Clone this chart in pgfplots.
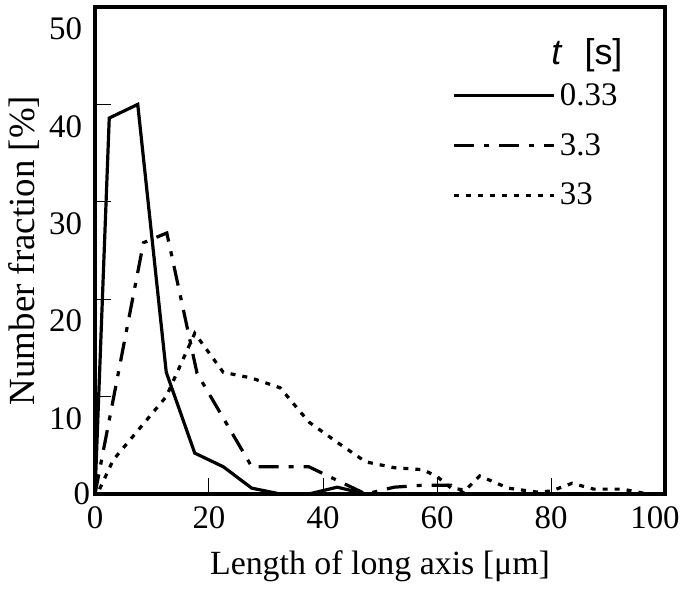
\documentclass[border=0pt]{standalone}
\usepackage{fontspec}
\setmainfont{Liberation Serif}
\setsansfont{Liberation Sans}
\usepackage{pgfplots}
\pgfplotsset{compat=1.18}

\newcommand{\chartfont}{\fontsize{16.5}{20}\selectfont}

\pgfplotsset{
  solidline/.style={black, line width=1.6bp},
  dashdotline/.style={black, line width=1.6bp, dash pattern=on 10bp off 5bp on 2.5bp off 5bp},
  dotline/.style={black, line width=1.6bp, dash pattern=on 2.5bp off 3.5bp},
}

\begin{document}
\begin{tikzpicture}
\useasboundingbox (-47.5bp,-48.5bp) rectangle (295bp,247bp);
\begin{axis}[
    scale only axis,
    width=285bp, height=243.5bp,
    at={(0,0)}, anchor=south west,
    xmin=0, xmax=100, ymin=0, ymax=50,
    xtick={0,20,40,60,80},
    ytick={10,20,30,40,50},
    extra x ticks={100},
    extra x tick style={xticklabel style={xshift=-5bp}},
    extra y ticks={0},
    extra y tick style={yticklabel style={yshift=11bp, xshift=4bp}},
    tick align=inside,
    xtick pos=lower, ytick pos=left,
    major tick length=8bp,
    tick style={black, line width=0.5bp},
    axis line style={line width=2bp},
    tick label style={font=\chartfont},
    yticklabel style={yshift=-11bp, xshift=-3bp},
    xticklabel style={yshift=-3bp},
    /pgf/number format/assume math mode=true,
    xlabel={Length of long axis [μm]},
    ylabel={Number fraction [\%]},
    xlabel style={font=\fontsize{17}{20}\selectfont, yshift=-4bp},
    ylabel style={font=\fontsize{18.5}{22}\selectfont, yshift=-2bp},
    legend style={draw=none, fill=none, at={(rel axis cs:0.627,0.852)}, anchor=north west,
        font=\chartfont, row sep=8.5bp, inner sep=0pt},
    legend cell align=left,
    legend image code/.code={\draw[#1] (0bp,0bp) -- (50bp,0bp);},
    clip=false,
]
\addplot[solidline] coordinates {
    (0,0) (2.5,38.6) (7.5,40) (12.5,12.5) (17.5,4.2) (22.5,2.8) (27.5,0.6)
    (32.5,0) (37.5,0) (42.5,0.7) (47.5,0) (55,0)
};
\addlegendentry{0.33}

\addplot[dashdotline] coordinates {
    (0,0) (8.5,25.8) (12.6,26.8) (17.9,12.4) (27.5,2.8) (37.5,2.8) (42.5,1.4)
    (47.5,0) (52.5,0.7) (57.5,0.9) (62.5,0.9) (65,0)
};
\addlegendentry{3.3}

\addplot[dotline] coordinates {
    (0.8,0.5) (3.2,3.5) (12.5,10) (17.5,16.5) (22.5,12.5) (27.5,11.9) (32.5,10.9)
    (37.5,7.4) (42.5,5.3) (47.5,3.3) (52.5,2.7) (57.5,2.5) (60,1.8) (62.5,0.6)
    (65,0.4) (67.5,1.85) (72.5,0.6) (77.5,0.2) (80,0.3) (83.7,1.1) (87.5,0.5)
    (92.5,0.5) (97,0)
};
\addlegendentry{33}

\node[font=\fontsize{18}{21}\selectfont\sffamily, inner sep=0pt] at (rel axis cs:0.863,0.900)
    {\textit{t}\hspace{11bp}[s]};
\end{axis}
\end{tikzpicture}
\end{document}
